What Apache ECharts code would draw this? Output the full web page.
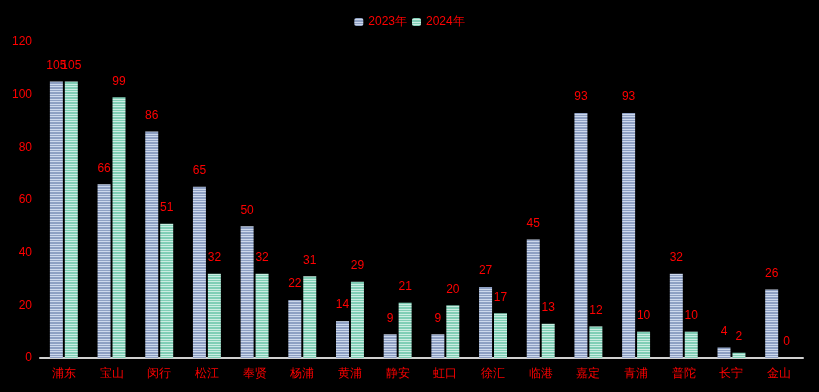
<!DOCTYPE html>
<html><head><meta charset="utf-8">
<script src="https://cdn.jsdelivr.net/npm/echarts@6/dist/echarts.min.js"></script>
<style>html,body{margin:0;padding:0;background:#000;}#c{width:819px;height:392px;}</style>
</head><body><div id="c"></div>
<script>
const categories = ['浦东','宝山','闵行','松江','奉贤','杨浦','黄浦','静安','虹口','徐汇','临港','嘉定','青浦','普陀','长宁','金山'];
const values2023 = [105,66,86,65,50,22,14,9,9,27,45,93,93,32,4,26];
const values2024 = [105,99,51,32,32,31,29,21,20,17,13,12,10,10,2,0];
const yTicks = [0,20,40,60,80,100,120];

function stripe(base, light) {
  const c = document.createElement('canvas');
  c.width = 4; c.height = 5;
  const ctx = c.getContext('2d');
  const rows = [base, light, base, base, light];
  rows.forEach((col, i) => { ctx.fillStyle = col; ctx.fillRect(0, i, 4, 1); });
  return { image: c, repeat: 'repeat' };
}
const blue = stripe('#8ea0c3', '#cdd8ec');
const green = stripe('#80ceb6', '#cbede2');

const chart = echarts.init(document.getElementById('c'), null, {renderer: 'canvas'});
chart.setOption({
  backgroundColor: '#000',
  animation: false,
  legend: {
    top: 11, left: 'center',
    itemWidth: 9, itemHeight: 8, itemGap: 5,
    textStyle: { color: '#ff0000', fontSize: 12 },
    data: ['2023年','2024年']
  },
  grid: { left: 40, right: 16, top: 42, bottom: 34, containLabel: false },
  xAxis: {
    type: 'category', data: categories,
    axisLine: { lineStyle: { color: '#d0d0d0', width: 2 } },
    axisTick: { show: false },
    axisLabel: { color: '#ff0000', fontSize: 12, margin: 10, interval: 0 }
  },
  yAxis: {
    type: 'value', min: yTicks[0], max: yTicks[yTicks.length-1], interval: 20,
    axisLine: { show: false }, axisTick: { show: false },
    splitLine: { show: false },
    axisLabel: { color: '#ff0000', fontSize: 12, margin: 8 }
  },
  series: [
    { name: '2023年', type: 'bar', data: values2023, barWidth: 13, barGap: '15%',
      itemStyle: { color: blue },
      label: { show: true, position: 'top', distance: 10, color: '#ff0000', fontSize: 12 } },
    { name: '2024年', type: 'bar', data: values2024, barWidth: 13,
      itemStyle: { color: green },
      label: { show: true, position: 'top', distance: 10, color: '#ff0000', fontSize: 12 } }
  ]
});
</script></body></html>
